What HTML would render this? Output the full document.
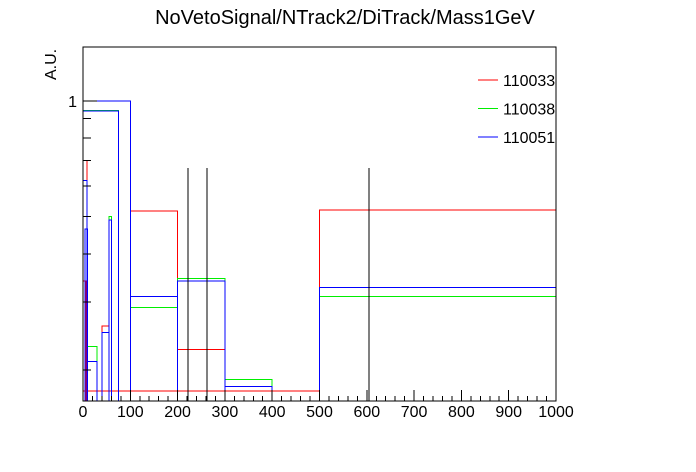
<!DOCTYPE html>
<html><head><meta charset="utf-8"><style>
body{margin:0;background:#fff;}
svg{display:block;font-family:"Liberation Sans",sans-serif;}
#plot polyline,#plot line{shape-rendering:crispEdges;}
</style></head><body>
<svg id="c" width="696" height="472">
<rect width="696" height="472" fill="#fff"/>
<text x="345" y="24" font-size="20" text-anchor="middle">NoVetoSignal/NTrack2/DiTrack/Mass1GeV</text>
<text transform="translate(56,80) rotate(-90)" font-size="16">A.U.</text>
<g id="plot"></g>
<rect x="83" y="47" width="473" height="354" fill="none" stroke="#000" stroke-width="1" shape-rendering="crispEdges"/>
</svg>
<script>
const seriesNames = ["110033","110038","110051"];
const seriesColors = ["#ff0000","#00ee00","#0000ff"];
// bins: [low, high, value]
const redBins = [[0,500,0.176],[100,200,0.518],[200,300,0.226],[500,1000,0.52],[0,8,0.70],[0,6,0.34],[4,8,0.31],[40,55,0.26],[55,60,0.49]];
const greenBins = [[0,75,0.945],[100,200,0.29],[200,300,0.345],[300,400,0.189],[500,1000,0.31],[0,8,0.60],[10,30,0.23],[40,55,0.25],[55,60,0.50]];
const blueBins = [[0,100,1.0],[0,75,0.94],[100,200,0.31],[200,300,0.34],[300,400,0.181],[500,1000,0.327],[0,8,0.62],[4,10,0.465],[8,30,0.21],[40,55,0.25],[55,60,0.49]];
const blackLines = [222,262,605];
const blackTop = 0.67;
const xTicks = [0,100,200,300,400,500,600,700,800,900,1000];
const yMin = 0.166, yMax = 1.38;

const X0=83,X1=556,Y0=401,Y1=47;
const xs = v => X0 + (v/1000)*(X1-X0);
const ys = v => Y0 - (Math.log10(v)-Math.log10(yMin))/(Math.log10(yMax)-Math.log10(yMin))*(Y0-Y1);
const g = document.getElementById('plot');
const NS="http://www.w3.org/2000/svg";
function mk(t,a){const e=document.createElementNS(NS,t);for(const k in a)e.setAttribute(k,a[k]);g.appendChild(e);return e;}

[redBins,greenBins,blueBins].forEach((bins,si)=>{
  bins.forEach((b,i)=>{
    const x0=xs(b[0]),x1=xs(b[1]),y=ys(b[2]);
    const p=mk('polyline',{points:`${x0},${Y0} ${x0},${y} ${x1},${y} ${x1},${Y0}`,fill:'none',stroke:seriesColors[si],'stroke-width':1});
    
    
  });
});
blackLines.forEach((v,i)=>{
  const l=mk('line',{x1:xs(v),x2:xs(v),y1:ys(blackTop),y2:Y0,stroke:'#000','stroke-width':1});
  
  
});
for(let v=0;v<=1000;v+=20){
  const major=v%100===0;
  const t=mk('line',{x1:xs(v),x2:xs(v),y1:Y0,y2:Y0-(major?11:5),stroke:'#000','stroke-width':1});
  
  
}
xTicks.forEach(v=>{
  const t=mk('text',{x:xs(v),y:417,'font-size':16,'text-anchor':'middle'});
  t.textContent=v;
  
  
});
[0.2,0.3,0.4,0.5,0.6,0.7,0.8,0.9,1].forEach(v=>{
  const major=v===1;
  const t=mk('line',{x1:X0,x2:X0+(major?14:8),y1:ys(v),y2:ys(v),stroke:'#000','stroke-width':1});
  
  
});
const yl=mk('text',{x:77,y:ys(1)+6,'font-size':16,'text-anchor':'end'});
yl.textContent='1';


seriesNames.forEach((n,i)=>{
  const y=80+i*28.5;
  const l=mk('line',{x1:478,x2:498,y1:y,y2:y,stroke:seriesColors[i],'stroke-width':1});
  
  
  const t=mk('text',{x:503,y:y+6,'font-size':16});
  t.textContent=n;
  
  
});
</script>
</body></html>
